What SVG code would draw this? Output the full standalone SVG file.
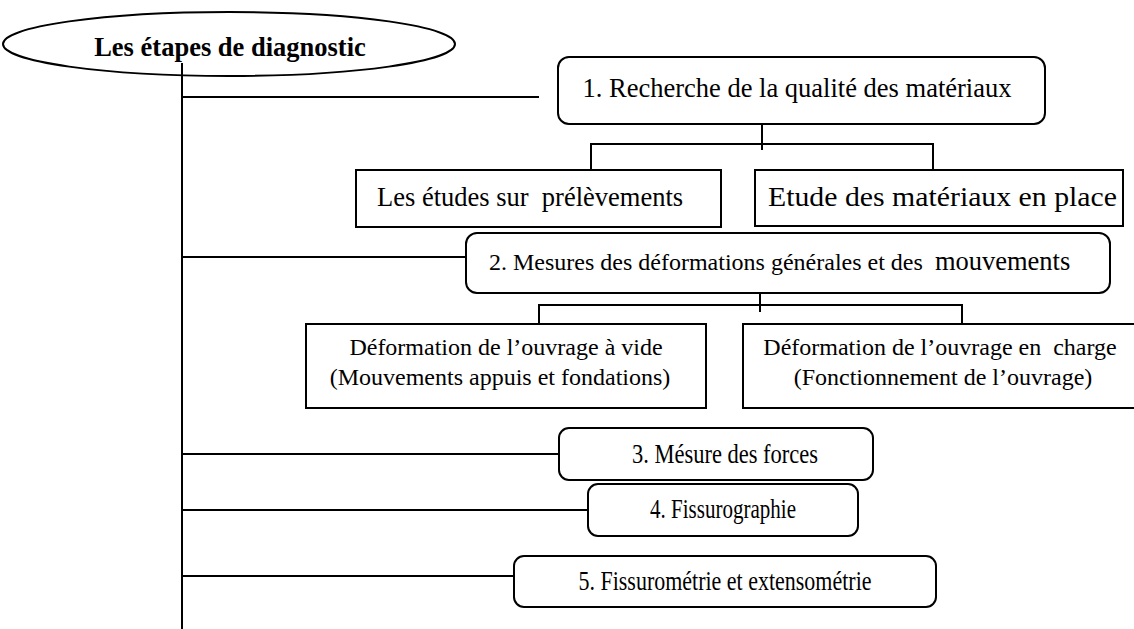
<svg xmlns="http://www.w3.org/2000/svg" width="1134" height="629" viewBox="0 0 1134 629">
<style>
.t{font-family:"Liberation Serif","Times New Roman",serif;font-size:26.5px;fill:#000;white-space:pre}
.s{font-size:24px}
.b{font-weight:bold;font-size:26.5px}
.box{fill:#fff;stroke:#000;stroke-width:2}
.ln{fill:none;stroke:#000;stroke-width:2}
</style>
<rect width="1134" height="629" fill="#fff"/>
<g id="connectors">
<path class="ln" d="M182 63V629"/>
<path class="ln" d="M182 97H539"/>
<path class="ln" d="M182 257H470"/>
<path class="ln" d="M182 454H559"/>
<path class="ln" d="M182 510H588"/>
<path class="ln" d="M182 576H514"/>
<path class="ln" d="M762 124V150M591 170V144H933V170"/>
<path class="ln" d="M760 293V312M539 324V305H962V324"/>
</g>
<g id="root">
<ellipse cx="229" cy="44" rx="226" ry="32" fill="none" stroke="#000" stroke-width="2"/>
<text class="t b" x="230" y="56" text-anchor="middle">Les étapes de diagnostic</text>
</g>
<g id="n1">
<rect class="box" x="558" y="57" width="487" height="67" rx="11"/>
<text class="t" x="797" y="97" text-anchor="middle">1. Recherche de la qualité des matériaux</text>
</g>
<g id="n1a">
<rect class="box" x="356" y="170" width="365" height="57"/>
<text class="t" x="377" y="206">Les études sur  prélèvements</text>
</g>
<g id="n1b">
<rect class="box" x="755" y="170" width="368" height="56"/>
<text class="t" x="768" y="206" style="font-size:28px" textLength="349" lengthAdjust="spacingAndGlyphs">Etude des matériaux en place</text>
</g>
<g id="n2">
<rect class="box" x="466" y="233" width="644" height="60" rx="11"/>
<text class="t" x="489" y="270"><tspan class="s">2. Mesures des déformations générales et des  </tspan>mouvements</text>
</g>
<g id="n2a">
<rect class="box" x="306" y="324" width="400" height="84"/>
<text class="t s" x="506" y="355" text-anchor="middle">Déformation de l’ouvrage à vide</text>
<text class="t s" x="500" y="385" text-anchor="middle">(Mouvements appuis et fondations)</text>
</g>
<g id="n2b">
<rect class="box" x="743" y="324" width="400" height="84"/>
<text class="t s" x="940" y="355" text-anchor="middle">Déformation de l’ouvrage en  charge</text>
<text class="t s" x="943" y="385" text-anchor="middle">(Fonctionnement de l’ouvrage)</text>
</g>
<g id="n3">
<rect class="box" x="559" y="428" width="314" height="52" rx="10"/>
<text class="t" x="725" y="463" text-anchor="middle" textLength="186" lengthAdjust="spacingAndGlyphs">3. Mésure des forces</text>
</g>
<g id="n4">
<rect class="box" x="588" y="484" width="270" height="52" rx="10"/>
<text class="t" x="723" y="518" text-anchor="middle" textLength="146" lengthAdjust="spacingAndGlyphs">4. Fissurographie</text>
</g>
<g id="n5">
<rect class="box" x="514" y="556" width="422" height="51" rx="10"/>
<text class="t" x="725" y="590" text-anchor="middle" textLength="293" lengthAdjust="spacingAndGlyphs">5. Fissurométrie et extensométrie</text>
</g>
</svg>
